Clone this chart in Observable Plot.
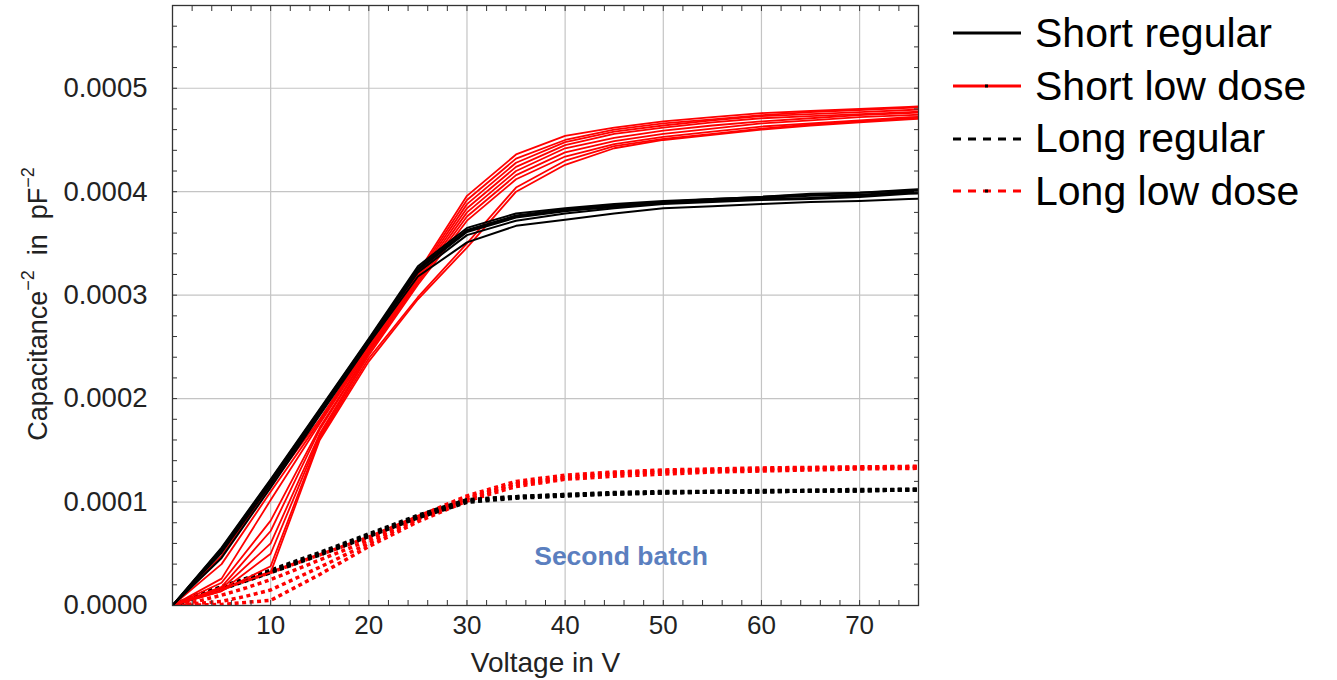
<!DOCTYPE html>
<html><head><meta charset="utf-8">
<script src="https://cdn.jsdelivr.net/npm/d3@7"></script>
<script src="https://cdn.jsdelivr.net/npm/@observablehq/plot@0.6"></script>
<style>
body{margin:0;background:#fff;font-family:"Liberation Sans",Arial,sans-serif;}
#wrap{position:relative;width:1337px;height:680px;overflow:hidden;}
#ylabel{position:absolute;left:38px;top:304px;transform:translate(-50%,-50%) rotate(-90deg);white-space:nowrap;font-size:27px;color:#222;}
#ylabel sup{font-size:18px;vertical-align:0.7em;line-height:0;}
#legend{position:absolute;left:952px;top:7px;}
.row{display:flex;align-items:center;height:52.7px;}
.row span{font-size:41px;color:#000;margin-left:13px;white-space:nowrap;}
</style></head><body><div id="wrap"><div id="ylabel"></div><div id="legend"></div></div>
<script>
// ---- data (capacitance^-2 values in pF^-2; written in units of 1e-5) ----
const UNIT = 1e-5;
const voltsShort = [0, 5, 10, 15, 20, 25, 30, 35, 40, 45, 50, 55, 60, 65, 70, 75, 80];
const voltsLong = [0, 2.5, 5, 7.5, 10, 15, 20, 25, 30, 35, 40, 45, 50, 55, 60, 65, 70, 75, 80];

const shortRegular = [
  [0, 5.6, 12.2, 19.0, 25.8, 32.8, 36.5, 37.9, 38.4, 38.8, 39.1, 39.3, 39.5, 39.7, 39.9, 40.1, 40.3],
  [0, 5.5, 12.1, 18.9, 25.7, 32.6, 36.3, 37.7, 38.3, 38.7, 39.0, 39.3, 39.5, 39.8, 39.9, 40.2, 40.4],
  [0, 5.3, 11.9, 18.7, 25.5, 32.4, 36.1, 37.5, 38.1, 38.6, 38.9, 39.1, 39.3, 39.4, 39.6, 39.9, 40.1],
  [0, 5.1, 11.7, 18.6, 25.4, 32.2, 35.8, 37.2, 37.9, 38.4, 38.8, 39.0, 39.2, 39.3, 39.5, 39.8, 40.0],
  [0, 5.4, 12.0, 18.8, 25.6, 32.5, 36.2, 37.6, 38.2, 38.5, 38.9, 39.2, 39.4, 39.6, 39.7, 40.0, 40.2],
  [0, 4.6, 11.4, 18.4, 25.3, 31.8, 35.1, 36.7, 37.3, 37.9, 38.4, 38.6, 38.8, 39.0, 39.1, 39.3, 39.4]
];
const shortLowDose = [
  [0, 4.8, 11.6, 18.0, 25.2, 32.2, 39.6, 43.6, 45.4, 46.2, 46.8, 47.2, 47.6, 47.8, 48.0, 48.2, 48.4],
  [0, 4.0, 11.0, 17.8, 25.0, 32.0, 39.2, 43.2, 45.0, 46.0, 46.6, 47.0, 47.4, 47.7, 47.9, 48.1, 48.3],
  [0, 2.6, 10.2, 17.6, 24.8, 31.8, 38.8, 42.8, 44.8, 45.8, 46.4, 46.9, 47.3, 47.5, 47.7, 47.9, 48.1],
  [0, 2.2, 8.2, 17.2, 24.6, 31.6, 38.4, 42.4, 44.5, 45.6, 46.2, 46.7, 47.1, 47.3, 47.5, 47.7, 47.9],
  [0, 1.8, 7.2, 17.0, 24.6, 31.4, 38.0, 42.0, 44.2, 45.2, 45.9, 46.4, 46.8, 47.1, 47.4, 47.6, 47.8],
  [0, 1.6, 6.0, 16.6, 24.4, 31.2, 37.6, 41.6, 43.8, 44.9, 45.6, 46.1, 46.6, 46.9, 47.2, 47.4, 47.6],
  [0, 1.4, 5.0, 16.4, 24.2, 31.0, 37.2, 41.2, 43.4, 44.6, 45.3, 45.8, 46.3, 46.6, 46.9, 47.2, 47.4],
  [0, 1.4, 3.8, 16.2, 23.9, 29.8, 35.0, 40.4, 43.0, 44.4, 45.1, 45.6, 46.1, 46.5, 46.8, 47.1, 47.3],
  [0, 1.6, 3.2, 16.0, 23.6, 29.6, 34.6, 40.0, 42.6, 44.2, 45.0, 45.5, 46.0, 46.4, 46.7, 47.0, 47.2]
];
const longRegular = [
  [0, 0.9, 1.7, 2.5, 3.3, 5.0, 6.8, 8.6, 10.1, 10.5, 10.7, 10.8, 10.9, 11.0, 11.0, 11.1, 11.1, 11.2, 11.2],
  [0, 0.9, 1.6, 2.4, 3.2, 4.9, 6.7, 8.5, 10.0, 10.4, 10.6, 10.8, 10.9, 11.0, 11.0, 11.1, 11.1, 11.2, 11.2],
  [0, 1.0, 1.8, 2.6, 3.4, 5.1, 6.9, 8.7, 10.2, 10.5, 10.7, 10.9, 11.0, 11.0, 11.1, 11.1, 11.2, 11.2, 11.3]
];
const longLowDose = [
  [0, 0.8, 1.6, 2.4, 3.2, 4.9, 6.6, 8.6, 10.6, 12.0, 12.6, 12.9, 13.1, 13.2, 13.3, 13.35, 13.4, 13.45, 13.5],
  [0, 0.4, 1.0, 1.7, 2.5, 4.4, 6.3, 8.4, 10.4, 11.8, 12.4, 12.8, 13.0, 13.1, 13.2, 13.3, 13.35, 13.4, 13.45],
  [0, 0.2, 0.4, 0.9, 1.5, 3.7, 6.0, 8.3, 10.3, 11.7, 12.3, 12.7, 12.9, 13.0, 13.1, 13.2, 13.3, 13.3, 13.35],
  [0, 0.05, 0.1, 0.3, 0.5, 3.0, 5.7, 8.1, 10.1, 11.5, 12.2, 12.5, 12.7, 12.9, 13.0, 13.1, 13.2, 13.25, 13.3]
];

const xTicks = [10, 20, 30, 40, 50, 60, 70];
const yTicks = [0, 0.0001, 0.0002, 0.0003, 0.0004, 0.0005];
const xMinorTicks = [2,4,6,8,10,12,14,16,18,20,22,24,26,28,30,32,34,36,38,40,42,44,46,48,50,52,54,56,58,60,62,64,66,68,70,72,74];
const yMinorTicks = [0.00002,0.00004,0.00006,0.00008,0.0001,0.00012,0.00014,0.00016,0.00018,0.0002,0.00022,0.00024,0.00026,0.00028,0.0003,0.00032,0.00034,0.00036,0.00038,0.0004,0.00042,0.00044,0.00046,0.00048,0.0005,0.00052,0.00054,0.00056];
const seriesNames = ["Short regular", "Short low dose", "Long regular", "Long low dose"];
const seriesColors = ["#000000", "#ff0000", "#000000", "#ff0000"];
const annotation = [{V: 45.7, C: 0.0000475, text: "Second batch"}];

// ---- build long-form rows ----
function rowsFor(name, volts, curves) {
  const out = [];
  curves.forEach((c, i) => c.forEach((v, j) => out.push({series: name, curve: name + i, V: volts[j], C: v * UNIT})));
  return out;
}
const dShortRegular = rowsFor(seriesNames[0], voltsShort, shortRegular);
const dShortLow = rowsFor(seriesNames[1], voltsShort, shortLowDose);
const dLongRegular = rowsFor(seriesNames[2], voltsLong, longRegular);
const dLongLow = rowsFor(seriesNames[3], voltsLong, longLowDose);

const DASH = [4, 3.5];

const chart = Plot.plot({
  width: 940,
  height: 680,
  marginLeft: 172,
  marginRight: 22,
  marginTop: 5,
  marginBottom: 75,
  style: {fontFamily: "'Liberation Sans', Arial, sans-serif", fontSize: "27px", color: "#222", background: "#fff"},
  x: {domain: [0, 76]},
  y: {domain: [0, 0.00058]},
  marks: [
    Plot.gridX(xTicks, {stroke: "#c4c4c4", strokeOpacity: 1, strokeWidth: 1.2}),
    Plot.gridY(yTicks, {stroke: "#c4c4c4", strokeOpacity: 1, strokeWidth: 1.2}),
    Plot.line(dLongLow, {x: "V", y: "C", z: "curve", stroke: seriesColors[3], strokeWidth: 3.5, strokeLinecap: "butt", strokeDasharray: DASH.join(","), clip: true}),
    Plot.line(dLongRegular, {x: "V", y: "C", z: "curve", stroke: seriesColors[2], strokeWidth: 4, strokeLinecap: "butt", strokeDasharray: DASH.join(","), clip: true}),
    Plot.line(dShortLow, {x: "V", y: "C", z: "curve", stroke: seriesColors[1], strokeWidth: 1.8, clip: true}),
    Plot.line(dShortRegular, {x: "V", y: "C", z: "curve", stroke: seriesColors[0], strokeWidth: 2, clip: true}),
    Plot.text(annotation, {x: "V", y: "C", text: "text", fill: "#5b7fbf", fontSize: 26.5, fontWeight: "bold"}),
    Plot.frame({stroke: "#333", strokeWidth: 1.3}),
    Plot.axisX({ticks: xTicks, tickSize: 0, tickPadding: 10, fontSize: 26, label: null}),
    Plot.axisX({ticks: [], tickSize: 0, fontSize: 28, label: "Voltage in V", labelAnchor: "center", labelOffset: 66, labelArrow: "none"}),
    Plot.axisX({anchor: "bottom", ticks: xMinorTicks, tickSize: -5, text: null, label: null, stroke: "#333"}),
    Plot.axisX({anchor: "top", ticks: xMinorTicks, tickSize: -5, text: null, label: null, stroke: "#333"}),
    Plot.axisY({ticks: yTicks, tickSize: 0, tickPadding: 25, fontSize: 27.5, tickFormat: d3.format(".4f"), label: null}),
    Plot.axisY({anchor: "left", ticks: yMinorTicks, tickSize: -5, text: null, label: null, stroke: "#333"}),
    Plot.axisY({anchor: "right", ticks: yMinorTicks, tickSize: -5, text: null, label: null, stroke: "#333"})
  ]
});
document.getElementById("wrap").prepend(chart);
chart.style.position = "absolute";
chart.style.left = "0px";
chart.style.top = "0px";

// align the dash phase of the overlapping dashed curves at their (flat) right ends
const period = DASH[0] + DASH[1];
chart.querySelectorAll("g[stroke-dasharray] path").forEach(p => {
  const L = p.getTotalLength();
  p.setAttribute("stroke-dashoffset", (period - (L % period)).toFixed(2));
});

document.getElementById("ylabel").innerHTML = "Capacitance<sup>\u22122</sup>&nbsp; in &nbsp;pF<sup>\u22122</sup>";

// ---- legend ----
const legendStyles = [
  {dash: null, mid: false},
  {dash: null, mid: true},
  {dash: "8,7", mid: false},
  {dash: "8,7", mid: true}
];
const legend = document.getElementById("legend");
seriesNames.forEach((name, i) => {
  const row = document.createElement("div");
  row.className = "row";
  const st = legendStyles[i];
  row.innerHTML =
    `<svg width="70" height="20"><line x1="1" y1="10" x2="69" y2="10" stroke="${seriesColors[i]}" stroke-width="3" ${st.dash ? `stroke-dasharray="${st.dash}"` : ""}/>` +
    (st.mid ? `<line x1="33" y1="10" x2="36" y2="10" stroke="#000" stroke-width="3"/>` : "") +
    `</svg><span>${name}</span>`;
  legend.appendChild(row);
});
</script></body></html>
